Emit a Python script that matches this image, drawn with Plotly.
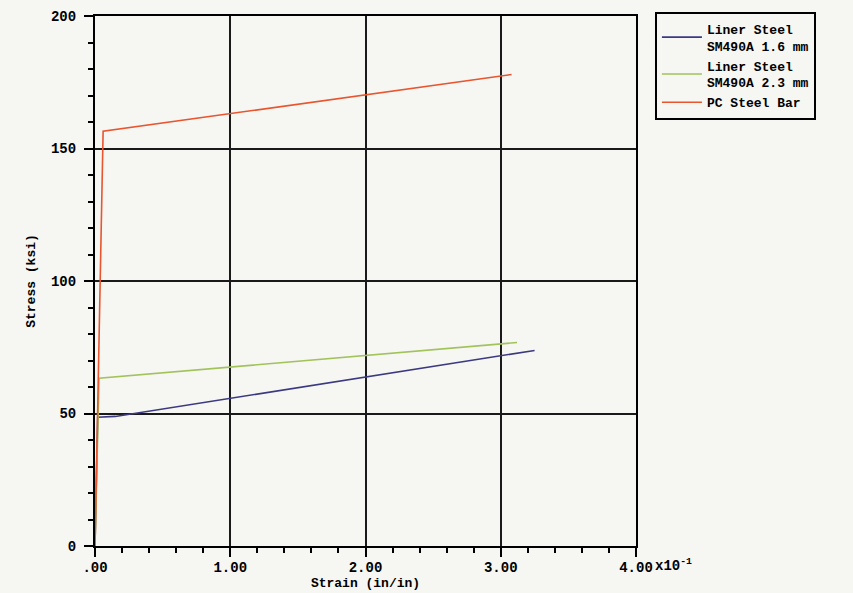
import plotly.graph_objects as go

# Stress-strain curves; strain in units of 1e-1 in/in, stress in ksi
series_names = ["Liner Steel<br>SM490A 1.6 mm", "Liner Steel<br>SM490A 2.3 mm", "PC Steel Bar"]
series_colors = ["#3b3a80", "#a2c35a", "#e8552f"]

strain_16 = [0.0, 0.02, 0.15, 3.25]
stress_16 = [0.0, 48.6, 48.9, 73.8]

strain_23 = [0.0, 0.03, 3.12]
stress_23 = [0.0, 63.3, 76.8]

strain_pc = [0.0, 0.06, 3.08]
stress_pc = [0.0, 156.5, 177.9]

x_tick_vals = [0, 1, 2, 3, 4]
x_tick_text = [".00", "1.00", "2.00", "3.00", "4.00"]
y_tick_vals = [0, 50, 100, 150, 200]
y_tick_text = ["0", "50", "100", "150", "200"]

FONT = "Liberation Mono"

fig = go.Figure()
for xs, ys, name, color in [
    (strain_16, stress_16, series_names[0], series_colors[0]),
    (strain_23, stress_23, series_names[1], series_colors[1]),
    (strain_pc, stress_pc, series_names[2], series_colors[2]),
]:
    fig.add_trace(go.Scatter(x=xs, y=ys, mode="lines", name=name,
                             line=dict(color=color, width=1.6)))

axis_common = dict(
    automargin=False,
    showline=True, linecolor="black", linewidth=2, mirror=True,
    showgrid=True, gridcolor="#1a1a1a", gridwidth=1.8,
    zeroline=False,
    ticks="outside", ticklen=9, tickwidth=2, tickcolor="black",
    tickfont=dict(family=FONT, size=14, color="black", weight="bold"),
)

fig.update_xaxes(
    range=[0, 4], tickvals=x_tick_vals, ticktext=x_tick_text,
    ticklabelstandoff=-2,
    minor=dict(dtick=0.2, ticks="outside", ticklen=5, tickwidth=2, tickcolor="black", showgrid=False),
    title=dict(text="Strain (in/in)", standoff=2,
               font=dict(family=FONT, size=13, color="black", weight="bold")),
    **axis_common,
)
fig.update_yaxes(
    range=[0, 200], tickvals=y_tick_vals, ticktext=y_tick_text,
    ticklabelstandoff=5,
    minor=dict(dtick=10, ticks="outside", ticklen=5, tickwidth=2, tickcolor="black", showgrid=False),
    title=dict(text="Stress (ksi)", standoff=12,
               font=dict(family=FONT, size=13, color="black", weight="bold")),
    **axis_common,
)

fig.add_annotation(
    x=1.0, y=0, xref="paper", yref="paper", xanchor="left", yanchor="top",
    xshift=17, yshift=-8, showarrow=False,
    text="x10<sup>-1</sup>",
    font=dict(family=FONT, size=14, color="black", weight="bold"),
)

fig.update_layout(
    width=853, height=593,
    margin=dict(l=95, r=217, t=12, b=47),
    paper_bgcolor="#f6f6f3", plot_bgcolor="#f6f6f3",
    showlegend=True,
    legend=dict(
        x=1.035, y=1.008, xanchor="left", yanchor="top",
        bgcolor="#f6f6f3", bordercolor="black", borderwidth=2,
        font=dict(family=FONT, size=13, color="black", weight="bold"),
        tracegroupgap=0, itemwidth=40,
    ),
)

fig.write_html("out.html")
